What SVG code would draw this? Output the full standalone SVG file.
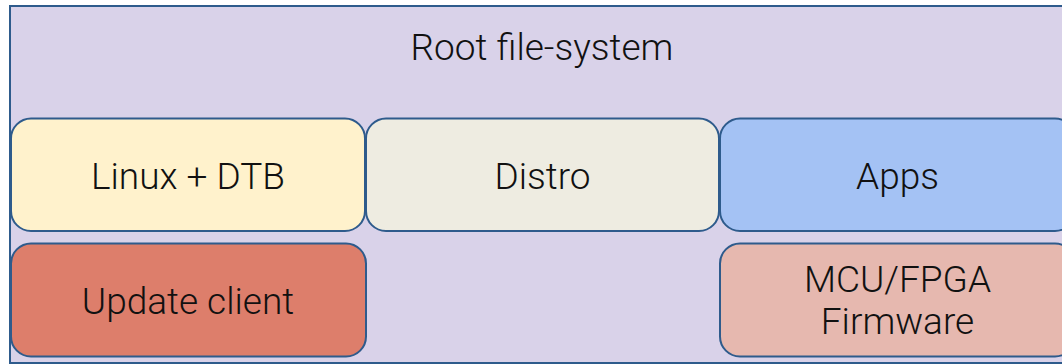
<svg xmlns="http://www.w3.org/2000/svg" width="1062" height="364" viewBox="0 0 1062 364">
<style>
.box{stroke:#2e5b8c;stroke-width:2}
.t{font-family:Roboto,"Liberation Sans",sans-serif;font-weight:300;font-size:37px;fill:#111;text-anchor:middle}
</style>
<rect width="1062" height="364" fill="#ffffff"/>
<g id="rootfs">
<rect class="box" x="10" y="6" width="1066" height="357" fill="#d9d2e9"/>
<text class="t" x="542" y="60">Root file-system</text>
</g>
<g id="linux">
<rect class="box" x="11" y="118.5" width="354" height="112.5" rx="20" fill="#fff2cc"/>
<text class="t" x="188" y="189">Linux + DTB</text>
</g>
<g id="distro">
<rect class="box" x="366" y="118.5" width="353" height="112.5" rx="20" fill="#eeece1"/>
<text class="t" x="542.5" y="189">Distro</text>
</g>
<g id="apps">
<rect class="box" x="720" y="118.5" width="355" height="112.5" rx="20" fill="#a4c2f4"/>
<text class="t" x="897.5" y="189">Apps</text>
</g>
<g id="update">
<rect class="box" x="11" y="243.5" width="355" height="113" rx="20" fill="#dd7e6b"/>
<text class="t" x="188" y="313.5">Update client</text>
</g>
<g id="mcu">
<rect class="box" x="720" y="243.5" width="355" height="113" rx="20" fill="#e6b8af"/>
<text class="t" x="897.5" y="292">MCU/FPGA</text>
<text class="t" x="897.5" y="333.5">Firmware</text>
</g>
<g id="connectors"/>
</svg>
